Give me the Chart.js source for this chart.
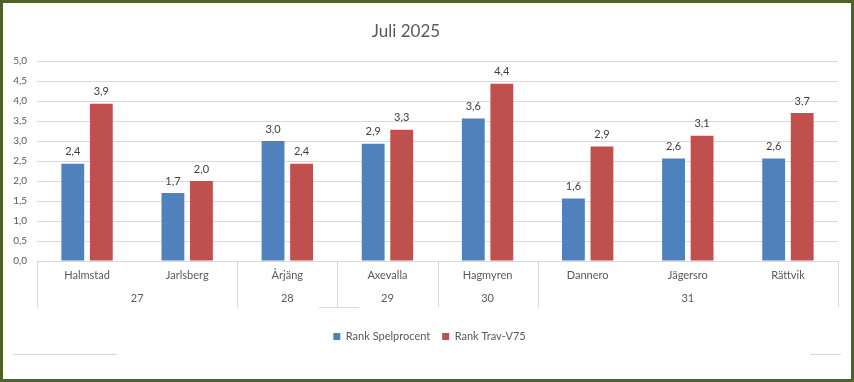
<!DOCTYPE html>
<html><head><meta charset="utf-8">
<script src="https://cdn.jsdelivr.net/npm/chart.js@4"></script>
<style>
html,body{margin:0;padding:0;background:#fff}
#wrap{width:854px;height:382px;box-sizing:border-box;border:3px solid #4f6228;background:#fff}
canvas{display:block}
</style></head><body>
<div id="wrap"><canvas id="c" width="848" height="376"></canvas></div>
<script>
const chartTitle = 'Juli 2025';
const categories = ['Halmstad','Jarlsberg','Årjäng','Axevalla','Hagmyren','Dannero','Jägersro','Rättvik'];
const weekLabels = ['27','28','29','30','31'];
const weekSpans = [2,1,1,1,3];
const seriesNames = ['Rank Spelprocent','Rank Trav-V75'];
const spelprocent = [2.43,1.70,3.00,2.93,3.56,1.56,2.56,2.56];
const travV75 = [3.93,2.00,2.43,3.28,4.43,2.86,3.13,3.70];
const yMin = 0, yMax = 5, yStep = 0.5;

const FONT = 'Lato, "Noto Sans", sans-serif';
const fmt = v => v.toFixed(1).replace('.', ',');

const deco = {
  id: 'deco',
  afterLayout(chart) {
    if (chart.legend) { chart.legend.left += 9; chart.legend.right += 9; }
  },
  afterDraw(chart) {
    const {ctx, chartArea, scales: {x}} = chart;
    const half = (x.getPixelForTick(1) - x.getPixelForTick(0)) / 2;
    const top = Math.round(chartArea.bottom);
    const bot = top + 46;
    ctx.save();
    ctx.strokeStyle = '#d9d9d9';
    ctx.lineWidth = 1;
    ctx.fillStyle = '#595959';
    ctx.font = '11px ' + FONT;
    ctx.textAlign = 'center';
    ctx.textBaseline = 'middle';
    let idx = 0;
    const edges = [x.getPixelForTick(0) - half];
    weekSpans.forEach((n, g) => {
      const left = x.getPixelForTick(idx) - half;
      const right = x.getPixelForTick(idx + n - 1) + half;
      edges.push(right);
      ctx.fillText(weekLabels[g], (left + right) / 2, top + 37);
      idx += n;
    });
    edges.forEach(e => {
      const px = Math.round(e) + 0.5;
      ctx.beginPath(); ctx.moveTo(px, top); ctx.lineTo(px, bot); ctx.stroke();
    });
    // faint excel artifacts
    ctx.beginPath();
    ctx.moveTo(316, bot + 0.5); ctx.lineTo(356, bot + 0.5);
    ctx.moveTo(10, 351.5); ctx.lineTo(114, 351.5);
    ctx.moveTo(807, 351.5); ctx.lineTo(838, 351.5);
    ctx.stroke();
    // title
    ctx.fillStyle = '#595959';
    ctx.font = '17px ' + FONT;
    ctx.fillText(chartTitle, 403, 29);
    ctx.restore();
  },
  afterDatasetsDraw(chart) {
    const {ctx} = chart;
    ctx.save();
    ctx.fillStyle = '#404040';
    ctx.font = '11px ' + FONT;
    ctx.textAlign = 'center';
    ctx.textBaseline = 'middle';
    chart.data.datasets.forEach((ds, i) => {
      chart.getDatasetMeta(i).data.forEach((el, j) => {
        ctx.fillText(fmt(ds.data[j]), el.x, el.y - 12);
      });
    });
    ctx.restore();
  }
};

new Chart(document.getElementById('c'), {
  type: 'bar',
  data: {
    labels: categories,
    datasets: [
      {label: seriesNames[0], data: spelprocent, backgroundColor: '#4f81bd', categoryPercentage: 0.57, barPercentage: 0.8},
      {label: seriesNames[1], data: travV75, backgroundColor: '#c0504d', categoryPercentage: 0.57, barPercentage: 0.8}
    ]
  },
  options: {
    responsive: false,
    animation: false,
    layout: {padding: {top: 58, right: 13, bottom: 27, left: 0}},
    plugins: {
      title: {display: false},
      tooltip: {enabled: false},
      legend: {
        position: 'bottom',
        labels: {boxWidth: 7, boxHeight: 7, color: '#595959', font: {family: FONT, size: 11}, padding: 12}
      }
    },
    scales: {
      x: {
        grid: {display: false},
        border: {display: true, color: '#d9d9d9'},
        ticks: {color: '#595959', font: {family: FONT, size: 11}, padding: 0, maxRotation: 0, autoSkip: false},
        afterFit(s) { s.height = 58; }
      },
      y: {
        min: yMin, max: yMax,
        grid: {color: '#d9d9d9', drawTicks: false},
        border: {display: false},
        ticks: {stepSize: yStep, color: '#595959', font: {family: FONT, size: 10}, padding: 10, callback: v => fmt(v)},
        afterFit(s) { s.width = 34; }
      }
    }
  },
  plugins: [deco]
});
</script>
</body></html>
